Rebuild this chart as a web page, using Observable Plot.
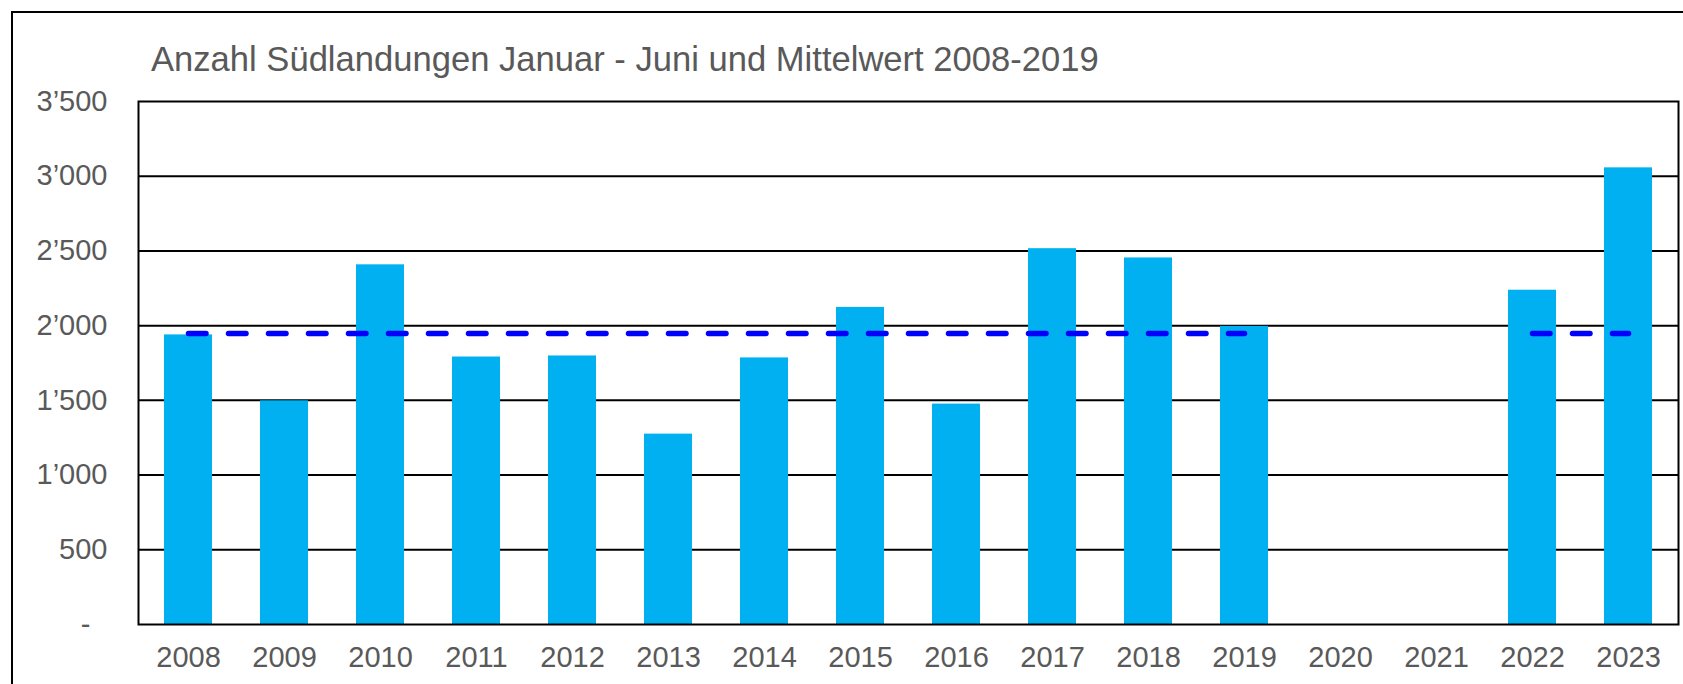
<!DOCTYPE html>
<html>
<head>
<meta charset="utf-8">
<script src="https://cdn.jsdelivr.net/npm/d3@7"></script>
<script src="https://cdn.jsdelivr.net/npm/@observablehq/plot@0.6"></script>
<style>
  html, body { margin: 0; padding: 0; background: #fff; }
  #wrap { position: relative; width: 1683px; height: 684px; overflow: hidden; background: #fff; }
  #chart { position: absolute; left: 0; top: 0; }
  #border { position: absolute; left: 11px; top: 11px; width: 1800px; height: 800px; border: 2px solid #000; box-sizing: border-box; pointer-events: none; }
  #title { position: absolute; left: 151px; top: 42px; font-family: 'Liberation Sans', Arial, sans-serif; font-size: 34.6px; line-height: 34.6px; color: #595959; white-space: nowrap; }
</style>
</head>
<body>
<div id="wrap">
  <div id="chart"></div>
  <div id="border"></div>
  <div id="title">Anzahl Südlandungen Januar - Juni und Mittelwert 2008-2019</div>
</div>
<script>
const years = ["2008","2009","2010","2011","2012","2013","2014","2015","2016","2017","2018","2019","2020","2021","2022","2023"];
const landings = [1938, 1497, 2407, 1790, 1797, 1274, 1784, 2122, 1475, 2515, 2453, 1995, null, null, 2237, 3056];
const meanValues = [1948, 1948, 1948, 1948, 1948, 1948, 1948, 1948, 1948, 1948, 1948, 1948, null, null, 1948, 1948];
const yTicks = [0, 500, 1000, 1500, 2000, 2500, 3000, 3500];
const yTickLabels = ["-", "500", "1’000", "1’500", "2’000", "2’500", "3’000", "3’500"];

const data = years.map((year, i) => ({year, value: landings[i], mean: meanValues[i]}));
const yLabel = d => yTickLabels[yTicks.indexOf(d)];

const chart = Plot.plot({
  width: 1683,
  height: 684,
  marginLeft: 138,
  marginRight: 5,
  marginTop: 101,
  marginBottom: 60,
  style: {fontFamily: "'Liberation Sans', Arial, sans-serif", background: "white", color: "#595959"},
  x: {domain: years, paddingInner: 0.5, paddingOuter: 0.25, label: null},
  y: {domain: [0, 3500], label: null},
  marks: [
    Plot.ruleY(yTicks.filter(d => d > 0 && d < 3500), {stroke: "#000", strokeWidth: 2}),
    Plot.barY(data, {x: "year", y: "value", fill: "#00B0F0"}),
    Plot.lineY(data, {x: "year", y: "mean", stroke: "#0000FF", strokeWidth: 5.5, strokeDasharray: "17.5,22.5", strokeLinecap: "round"}),
    Plot.frame({stroke: "#000", strokeWidth: 2}),
    Plot.axisY({ticks: yTicks.filter(d => d > 0), tickSize: 0, tickPadding: 31, fontSize: 29, tickFormat: yLabel, label: null}),
    Plot.axisY({ticks: [0], tickSize: 0, tickPadding: 48, fontSize: 29, tickFormat: yLabel, label: null}),
    Plot.axisX({tickSize: 0, tickPadding: 22, fontSize: 29, label: null})
  ]
});
document.getElementById("chart").appendChild(chart);
</script>
</body>
</html>
